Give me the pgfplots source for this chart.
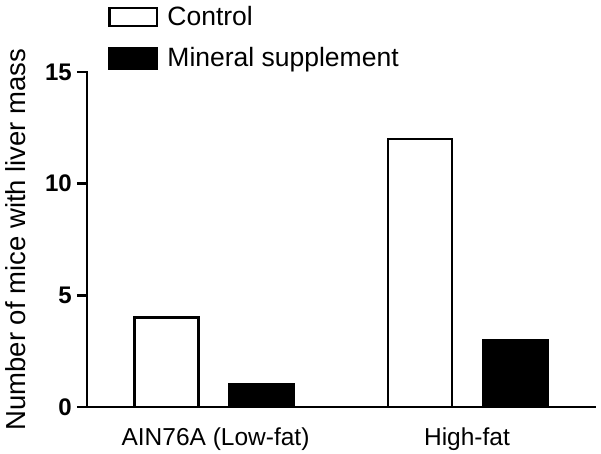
\documentclass[border=0pt]{standalone}
\usepackage{fontspec}
\setmainfont{Liberation Sans}
\usepackage{pgfplots}
\pgfplotsset{compat=1.18}
\begin{document}
\begin{tikzpicture}
\useasboundingbox (-87pt,-47pt) rectangle (514pt,407pt);
\begin{axis}[
  scale only axis,
  width=508pt, height=335pt,
  xmin=0, xmax=508, ymin=0, ymax=15,
  axis lines*=left,
  axis line style={line width=2.6pt, line cap=rect},
  /pgf/number format/assume math mode=true,
  xtick={128.5,380},
  xticklabels={AIN76A (Low-fat), High-fat},
  x tick style={draw=none},
  xticklabel style={font=\fontsize{24.5}{29}\selectfont, yshift=-7pt},
  ytick={0,5,10,15},
  y tick style={line width=2.6pt, black},
  tick align=outside,
  major tick length=10pt,
  yticklabel style={font=\fontsize{24}{29}\selectfont\bfseries, inner sep=0pt, xshift=-5pt},
  ylabel={Number of mice with liver mass},
  ylabel style={at={(axis description cs:-0.122,0.5)}, anchor=base, rotate=0, font=\fontsize{27.5}{32}\selectfont, inner sep=0pt},
  legend style={at={(axis description cs:0.0413,1.197)}, anchor=north west, draw=none, fill=none,
    font=\fontsize{26.5}{31}\selectfont, row sep=17pt, column sep=0pt,
    nodes={inner sep=0pt, text height=19pt, text depth=5pt},
    inner sep=0pt},
  legend cell align=left,
]
\addplot[ybar, bar width=64, bar shift=0pt, draw=black, fill=white, line width=2.5pt,
  legend image code/.code={\draw[line width=2.5pt, draw=black, fill=white] (1.25pt,-8pt) rectangle (49pt,10pt); \path (58pt,0pt);}]
  coordinates {(79.5,4) (333,12)};
\addlegendentry{Control}
\addplot[ybar, bar width=64, bar shift=0pt, draw=black, fill=black, line width=2.5pt,
  legend image code/.code={\draw[line width=2.5pt, draw=black, fill=black] (1.25pt,-9pt) rectangle (49pt,11pt); \path (58pt,0pt);}]
  coordinates {(174.5,1) (428.5,3)};
\addlegendentry{Mineral supplement}
\end{axis}
\end{tikzpicture}
\end{document}
